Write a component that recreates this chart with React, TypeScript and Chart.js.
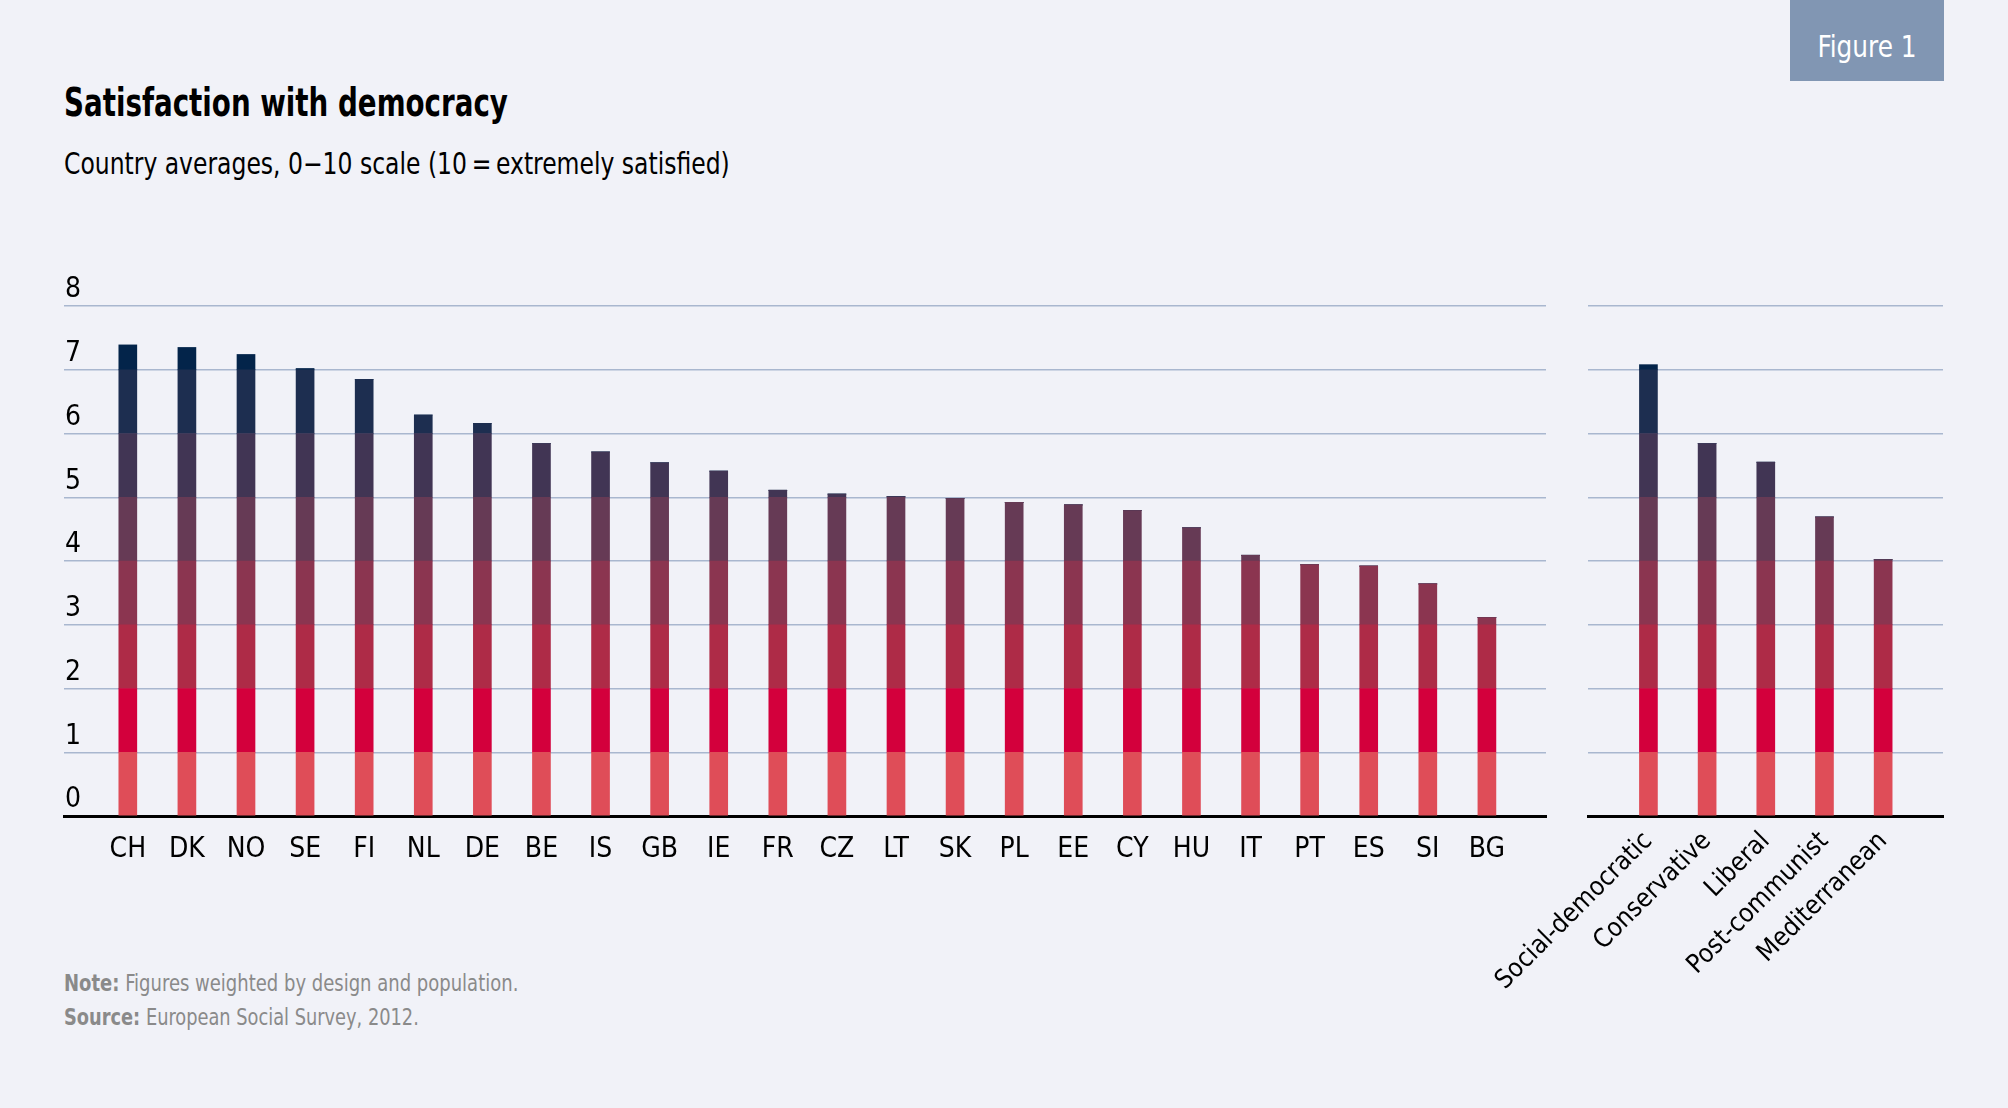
import React, { useEffect, useRef } from "react";
import { Chart, registerables } from "chart.js";

Chart.register(...registerables);

// ---------- data ----------
const countries = ["CH", "DK", "NO", "SE", "FI", "NL", "DE", "BE", "IS", "GB", "IE", "FR", "CZ", "LT", "SK", "PL", "EE", "CY", "HU", "IT", "PT", "ES", "SI", "BG"];
const countryValues = [7.39, 7.35, 7.24, 7.02, 6.85, 6.29, 6.16, 5.84, 5.71, 5.54, 5.41, 5.11, 5.05, 5.01, 4.98, 4.92, 4.88, 4.79, 4.52, 4.09, 3.94, 3.92, 3.64, 3.11];
const regimes = ["Social-democratic", "Conservative", "Liberal", "Post-communist", "Mediterranean"];
const regimeValues = [7.08, 5.84, 5.55, 4.69, 4.02];
// colour of each one-point band of a bar, from 0–1 up to 7–8
const bandColors = ["#df4d58", "#d3003c", "#ae2b47", "#8b3550", "#663a55", "#413554", "#1d2e50", "#03244a"];
const yMin = 0;
const yMax = 8;

const FONT = "'Liberation Sans Narrow', 'DejaVu Sans Condensed', Roboto, 'Open Sans', sans-serif";
const GRID = "#a9b7cf";
const BG = "#f1f2f8";

function buildConfig(labels: string[], values: number[], xMin: number, xMax: number, rotation: number, showY: boolean, pad: any, xAxisHeight: number): any {
  const datasets = bandColors.map((c, k) => ({
    data: values.map((v, i) => ({ x: i, y: Math.max(0, Math.min(1, v - k)) })),
    backgroundColor: c,
    borderWidth: 0,
    barThickness: 18,
  }));
  return {
    type: "bar",
    data: { datasets },
    options: {
      animation: false,
      responsive: false,
      devicePixelRatio: 1,
      layout: { padding: pad },
      plugins: { legend: { display: false }, tooltip: { enabled: false } },
      scales: {
        x: {
          type: "linear",
          bounds: "data",
          offset: false,
          min: xMin,
          max: xMax,
          stacked: true,
          z: 1,
          grid: { display: false, drawTicks: false, offset: false },
          border: { display: true, color: "#000", width: 3 },
          afterBuildTicks: (s: any) => {
            s.ticks = labels.map((_, i) => ({ value: i }));
          },
          afterFit: (s: any) => {
            s.height = xAxisHeight;
            s.paddingLeft = 0;
            s.paddingRight = 0;
          },
          ticks: {
            autoSkip: false,
            callback: (v: any) => labels[v] ?? "",
            color: "#000",
            font: { size: rotation ? 26 : 28, family: FONT },
            padding: rotation ? 10 : 17,
            minRotation: rotation,
            maxRotation: rotation,
          },
        },
        y: {
          min: yMin,
          max: yMax,
          stacked: true,
          grid: { color: GRID, lineWidth: 1.5, drawTicks: false },
          border: { display: false },
          afterFit: (s: any) => {
            s.width = 0;
            s.paddingTop = 0;
            s.paddingBottom = 0;
          },
          ticks: {
            display: showY,
            stepSize: 1,
            mirror: true,
            padding: 1,
            labelOffset: -16,
            color: "#000",
            font: { size: 28, family: FONT },
          },
        },
      },
    },
  };
}

function ChartCanvas(props: { config: () => any; style: React.CSSProperties; width: number; height: number }) {
  const ref = useRef<HTMLCanvasElement | null>(null);
  useEffect(() => {
    if (!ref.current) return;
    const chart = new Chart(ref.current, props.config());
    return () => chart.destroy();
  }, []);
  return <canvas ref={ref} width={props.width} height={props.height} style={{ position: "absolute", ...props.style }} />;
}

export default function App() {
  useEffect(() => {
    document.body.style.margin = "0";
    document.body.style.background = BG;
  }, []);
  const text: React.CSSProperties = { position: "absolute", fontFamily: FONT, whiteSpace: "nowrap", lineHeight: 1, transformOrigin: "0 50%" };
  return (
    <div style={{ position: "relative", width: 2008, height: 1108, background: BG, overflow: "hidden" }}>
      <div style={{ position: "absolute", left: 1790, top: 0, width: 154, height: 81, background: "#8196b3" }}>
        <div style={{ ...text, left: 0, width: 154, top: 32, textAlign: "center", color: "#fff", fontSize: 30, transform: "scaleX(0.92)", transformOrigin: "50% 50%" }}>Figure 1</div>
      </div>
      <div style={{ ...text, left: 64, top: 83, fontSize: 39, fontWeight: 700, color: "#000", transform: "scaleX(0.79)" }}>Satisfaction with democracy</div>
      <div style={{ ...text, left: 64, top: 149, fontSize: 30, color: "#000", transform: "scaleX(0.87)" }}>Country averages, 0−10 scale (10{"\u2009"}={"\u2009"}extremely satisfied)</div>

      <ChartCanvas
        width={1560}
        height={628}
        style={{ left: 0, top: 240 }}
        config={() => buildConfig(countries, countryValues, -1.08, 24.0, 0, true, { left: 64, right: 14, top: 66, bottom: 0 }, 52)}
      />
      <ChartCanvas
        width={608}
        height={826}
        style={{ left: 1400, top: 240 }}
        config={() => buildConfig(regimes, regimeValues, -1.03, 5.02, 45, false, { left: 188, right: 65, top: 66, bottom: 0 }, 250)}
      />

      <div style={{ ...text, left: 64, top: 972, fontSize: 23, color: "#8a8a8a", transform: "scaleX(0.87)" }}>
        <b>Note:</b> Figures weighted by design and population.
      </div>
      <div style={{ ...text, left: 64, top: 1006, fontSize: 23, color: "#8a8a8a", transform: "scaleX(0.86)" }}>
        <b>Source:</b> European Social Survey, 2012.
      </div>
    </div>
  );
}
